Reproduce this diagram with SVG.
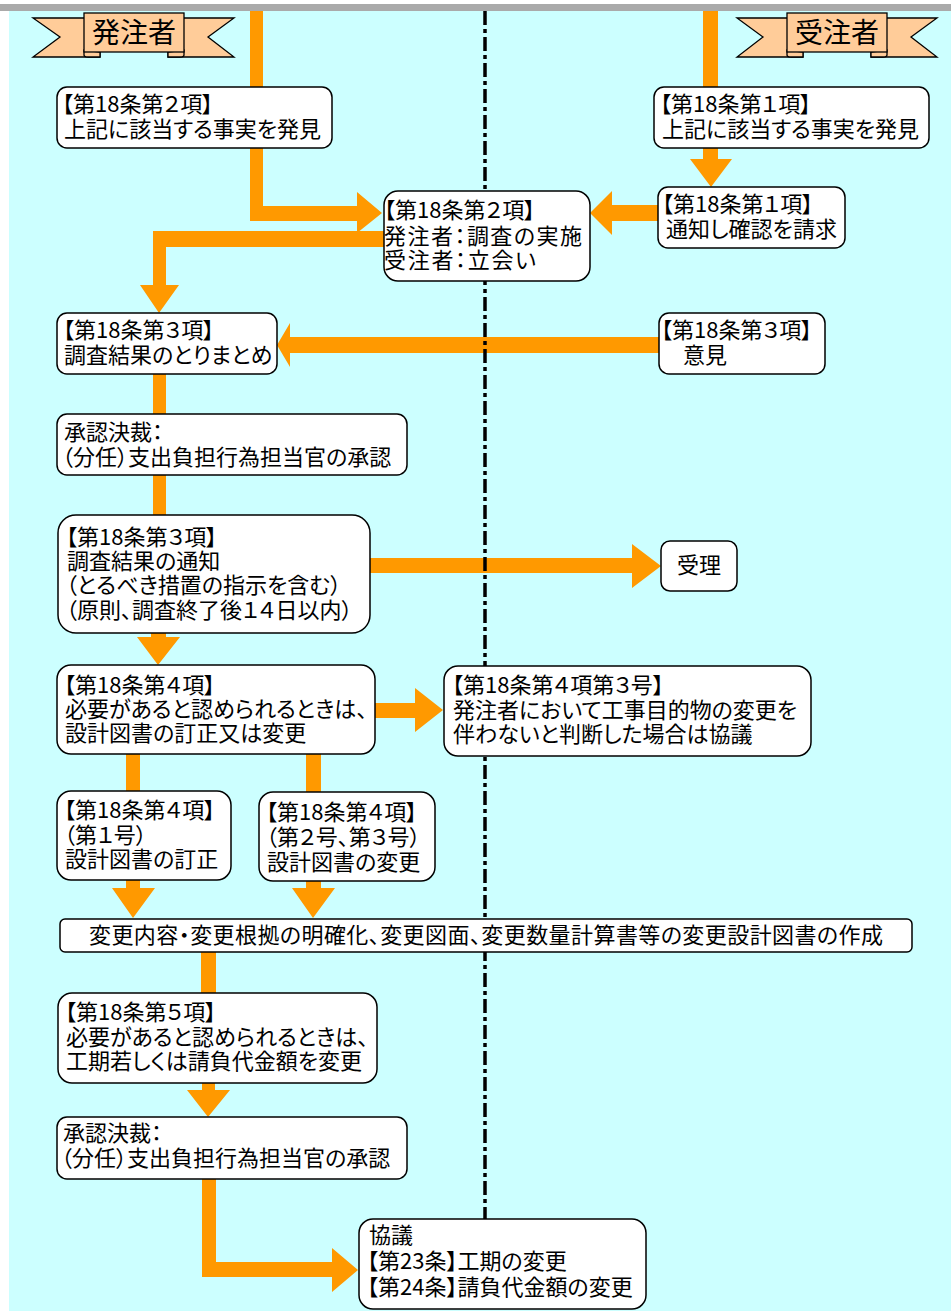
<svg xmlns="http://www.w3.org/2000/svg" width="951" height="1311" viewBox="0 0 951 1311">
<style>
.bg{fill:#CCFFFF}
.bar{fill:#AAAAAA}
.box{fill:#FFFFFF;stroke:#000000;stroke-width:1.5}
.rib{fill:#FFCC99;stroke:#000000;stroke-width:1.3;stroke-linejoin:miter}
.conn{fill:#FF9900}
.lane{stroke:#000000;stroke-width:3.5;stroke-dasharray:14 4 4 4;fill:none}
.t{font-family:"Noto Sans CJK JP","Noto Sans CJK SC",sans-serif;font-size:22px;font-feature-settings:"palt";fill:#000000}
.h{font-family:"Noto Sans CJK JP","Noto Sans CJK SC",sans-serif;font-size:28px;fill:#000000;text-anchor:middle}
</style>
<rect x="0" y="0" width="951" height="1311" fill="#FFFFFF"/>
<rect class="bg" x="9" y="11" width="942" height="1300"/>
<rect class="bar" x="0" y="4" width="951" height="7"/>

<g id="connectors">
<rect class="conn" x="250" y="11" width="13" height="76"/>
<rect class="conn" x="703" y="11" width="15" height="76"/>
<path class="conn" d="M250,148 L263,148 L263,206 L357,206 L357,192 L382,213 L357,233 L357,221 L250,221 Z"/>
<path class="conn" d="M703,148 L718,148 L718,159 L732,159 L711,187 L690,159 L703,159 Z"/>
<path class="conn" d="M658,205 L612,205 L612,191 L590,213 L612,235 L612,221 L658,221 Z"/>
<path class="conn" d="M384,231 L384,247 L166,247 L166,285 L179,285 L159,313 L140,285 L153,285 L153,231 Z"/>
<path class="conn" d="M659,337 L659,353 L290,353 L290,367 L277,345 L290,323 L290,337 Z"/>
<rect class="conn" x="153" y="374" width="13" height="40"/>
<rect class="conn" x="153" y="475" width="13" height="40"/>
<path class="conn" d="M151,633 L166,633 L166,637 L180,637 L158,665 L137,637 L151,637 Z"/>
<path class="conn" d="M370,558 L632,558 L632,544 L661,566 L632,588 L632,573 L370,573 Z"/>
<path class="conn" d="M375,703 L415,703 L415,688 L443,710 L415,732 L415,718 L375,718 Z"/>
<rect class="conn" x="126" y="754" width="14" height="37"/>
<rect class="conn" x="306" y="754" width="15" height="38"/>
<path class="conn" d="M126,880 L140,880 L140,888 L155,888 L133,918 L112,888 L126,888 Z"/>
<path class="conn" d="M306,881 L321,881 L321,888 L335,888 L313,918 L292,888 L306,888 Z"/>
<rect class="conn" x="201" y="952" width="15" height="41"/>
<path class="conn" d="M202,1083 L215,1083 L215,1090 L230,1090 L208,1117 L187,1090 L202,1090 Z"/>
<path class="conn" d="M202,1179 L216,1179 L216,1262 L332,1262 L332,1248 L358,1270 L332,1292 L332,1277 L202,1277 Z"/>
</g>

<line class="lane" x1="485" y1="11" x2="485" y2="1311"/>

<g id="header-orderer">
<path class="rib" d="M33,18 L100,18 L100,57 L33,57 L60,37 Z"/>
<path class="rib" d="M234,18 L168,18 L168,57 L234,57 L208,37 Z"/>
<path class="rib" d="M84,50 L84,55 Q84,57 88,57 L100,57 L100,52 Z"/>
<path class="rib" d="M184,50 L184,55 Q184,57 180,57 L168,57 L168,52 Z"/>
<rect class="rib" x="84" y="13" width="100" height="39"/>
<text class="h" x="134" y="43">発注者</text>
</g>

<g id="header-contractor">
<path class="rib" d="M737,18 L803,18 L803,57 L737,57 L763,37 Z"/>
<path class="rib" d="M937,18 L871,18 L871,57 L937,57 L911,37 Z"/>
<path class="rib" d="M787,50 L787,55 Q787,57 791,57 L803,57 L803,52 Z"/>
<path class="rib" d="M887,50 L887,55 Q887,57 883,57 L871,57 L871,52 Z"/>
<rect class="rib" x="787" y="13" width="100" height="39"/>
<text class="h" x="837" y="43">受注者</text>
</g>

<g id="n1">
<rect class="box" x="57" y="87" width="275" height="61" rx="10"/>
<text class="t"><tspan x="62" y="112">【第18条第２項】</tspan><tspan x="64" y="137">上記に該当する事実を発見</tspan></text>
</g>
<g id="n2">
<rect class="box" x="654" y="87" width="275" height="61" rx="10"/>
<text class="t"><tspan x="660" y="112">【第18条第１項】</tspan><tspan x="662" y="137">上記に該当する事実を発見</tspan></text>
</g>
<g id="n3">
<rect class="box" x="384" y="191" width="206" height="90" rx="14"/>
<text class="t"><tspan x="384" y="218">【第18条第２項】</tspan><tspan x="384" y="244" textLength="198" lengthAdjust="spacing">発注者：調査の実施</tspan><tspan x="384" y="268" textLength="152" lengthAdjust="spacing">受注者：立会い</tspan></text>
</g>
<g id="n5">
<rect class="box" x="658" y="187" width="187" height="61" rx="10"/>
<text class="t"><tspan x="662" y="212">【第18条第１項】</tspan><tspan x="666" y="237">通知し確認を請求</tspan></text>
</g>
<g id="n4">
<rect class="box" x="57" y="313" width="220" height="61" rx="10"/>
<text class="t"><tspan x="63" y="338">【第18条第３項】</tspan><tspan x="64" y="363">調査結果のとりまとめ</tspan></text>
</g>
<g id="n6">
<rect class="box" x="659" y="313" width="166" height="61" rx="10"/>
<text class="t"><tspan x="661" y="338">【第18条第３項】</tspan><tspan x="683" y="363">意見</tspan></text>
</g>
<g id="n7">
<rect class="box" x="57" y="414" width="350" height="61" rx="10"/>
<text class="t"><tspan x="64" y="440">承認決裁：</tspan><tspan x="62" y="465">（分任）支出負担行為担当官の承認</tspan></text>
</g>
<g id="n8">
<rect class="box" x="58" y="515" width="312" height="118" rx="18"/>
<text class="t"><tspan x="66" y="545">【第18条第３項】</tspan><tspan x="67" y="569">調査結果の通知</tspan><tspan x="66" y="593">（とるべき措置の指示を含む）</tspan><tspan x="66" y="618">（原則、調査終了後１４日以内）</tspan></text>
</g>
<g id="n9">
<rect class="box" x="661" y="541" width="76" height="50" rx="9"/>
<text class="t" x="699" y="573" text-anchor="middle">受理</text>
</g>
<g id="n10">
<rect class="box" x="57" y="665" width="318" height="89" rx="14"/>
<text class="t"><tspan x="64" y="693">【第18条第４項】</tspan><tspan x="65" y="717">必要があると認められるときは、</tspan><tspan x="65" y="741">設計図書の訂正又は変更</tspan></text>
</g>
<g id="n11">
<rect class="box" x="444" y="666" width="367" height="90" rx="14"/>
<text class="t"><tspan x="452" y="693">【第18条第４項第３号】</tspan><tspan x="453" y="718">発注者において工事目的物の変更を</tspan><tspan x="453" y="742">伴わないと判断した場合は協議</tspan></text>
</g>
<g id="n12">
<rect class="box" x="57" y="791" width="174" height="89" rx="14"/>
<text class="t"><tspan x="64" y="818">【第18条第４項】</tspan><tspan x="64" y="843">（第１号）</tspan><tspan x="65" y="867">設計図書の訂正</tspan></text>
</g>
<g id="n13">
<rect class="box" x="259" y="792" width="176" height="89" rx="14"/>
<text class="t"><tspan x="266" y="820">【第18条第４項】</tspan><tspan x="266" y="845">（第２号、第３号）</tspan><tspan x="267" y="870">設計図書の変更</tspan></text>
</g>
<g id="n14">
<rect class="box" x="60" y="919" width="852" height="33" rx="5"/>
<text class="t" x="89" y="943" textLength="794" lengthAdjust="spacing">変更内容・変更根拠の明確化、変更図面、変更数量計算書等の変更設計図書の作成</text>
</g>
<g id="n15">
<rect class="box" x="58" y="993" width="319" height="90" rx="14"/>
<text class="t"><tspan x="65" y="1020">【第18条第５項】</tspan><tspan x="66" y="1045">必要があると認められるときは、</tspan><tspan x="66" y="1069">工期若しくは請負代金額を変更</tspan></text>
</g>
<g id="n16">
<rect class="box" x="57" y="1117" width="350" height="62" rx="10"/>
<text class="t"><tspan x="63" y="1141">承認決裁：</tspan><tspan x="61" y="1166">（分任）支出負担行為担当官の承認</tspan></text>
</g>
<g id="n17">
<rect class="box" x="359" y="1219" width="287" height="90" rx="14"/>
<text class="t"><tspan x="369" y="1243">協議</tspan><tspan x="367" y="1269">【第23条】工期の変更</tspan><tspan x="367" y="1295">【第24条】請負代金額の変更</tspan></text>
</g>
</svg>
